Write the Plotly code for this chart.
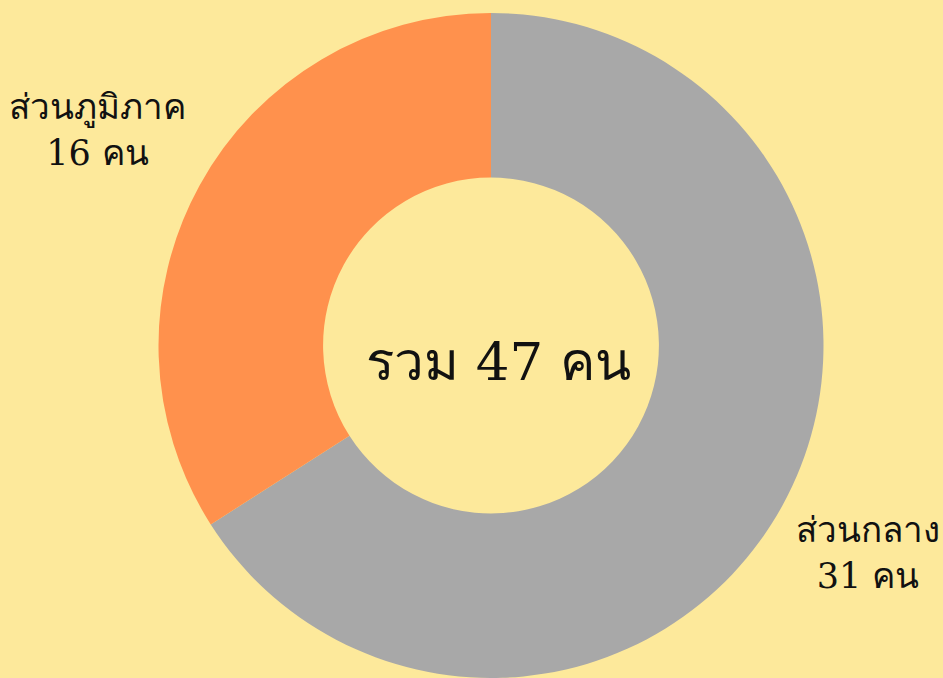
import math
import plotly.graph_objects as go

labels = ["ส่วนกลาง", "ส่วนภูมิภาค"]
values = [31, 16]
colors = ["#A8A8A8", "#FF914D"]
unit = "คน"
total = sum(values)

# figure / pie geometry (pixels)
W, H = 943, 678
M_TOP = 13
CX = 491.0
R = (H - M_TOP) / 2.0
CY = M_TOP + R
GAP = 13.0
HOLE = 0.505

fig = go.Figure(go.Pie(
    labels=labels,
    values=values,
    hole=HOLE,
    sort=False,
    direction="clockwise",
    rotation=0,
    marker=dict(colors=colors, line=dict(width=0)),
    textinfo="none",
    hoverinfo="label+value",
    showlegend=False,
    domain=dict(x=[(CX - R) / W, (CX + R) / W], y=[0, 1]),
))

def to_paper(px, py):
    return px / W, 1 - (py - M_TOP) / (H - M_TOP)

# outside labels placed at each slice's mid-angle
cum = 0
for lab, val in zip(labels, values):
    mid = (cum + val / 2) / total * 2 * math.pi
    cum += val
    s, c = math.sin(mid), math.cos(mid)
    px = CX + (R + GAP) * s
    py = CY - (R + GAP) * c
    x, y = to_paper(px, py)
    fig.add_annotation(
        text=f"{lab}<br>{val} {unit}",
        x=x, y=y, xref="paper", yref="paper",
        xanchor="left" if s > 0 else "right",
        yanchor="top" if c < 0 else "bottom",
        yshift=4,
        align="center", showarrow=False,
        font=dict(family="DejaVu Serif", size=35, color="#111111"),
    )

cx_p, cy_p = to_paper(CX, CY)
fig.add_annotation(
    text=f"รวม {total} {unit}",
    x=cx_p, y=cy_p, xref="paper", yref="paper",
    xanchor="center", yanchor="middle", showarrow=False,
    xshift=7, yshift=-16,
    font=dict(family="DejaVu Serif", size=53, color="#111111"),
)

fig.update_layout(
    width=W, height=H,
    margin=dict(l=0, r=0, t=M_TOP, b=0),
    paper_bgcolor="#FDE99B",
    plot_bgcolor="#FDE99B",
)

fig.write_html(
    "out.html",
    config={"displayModeBar": False},
    post_script="document.body.style.margin='0';document.body.style.background='#FDE99B';",
)
